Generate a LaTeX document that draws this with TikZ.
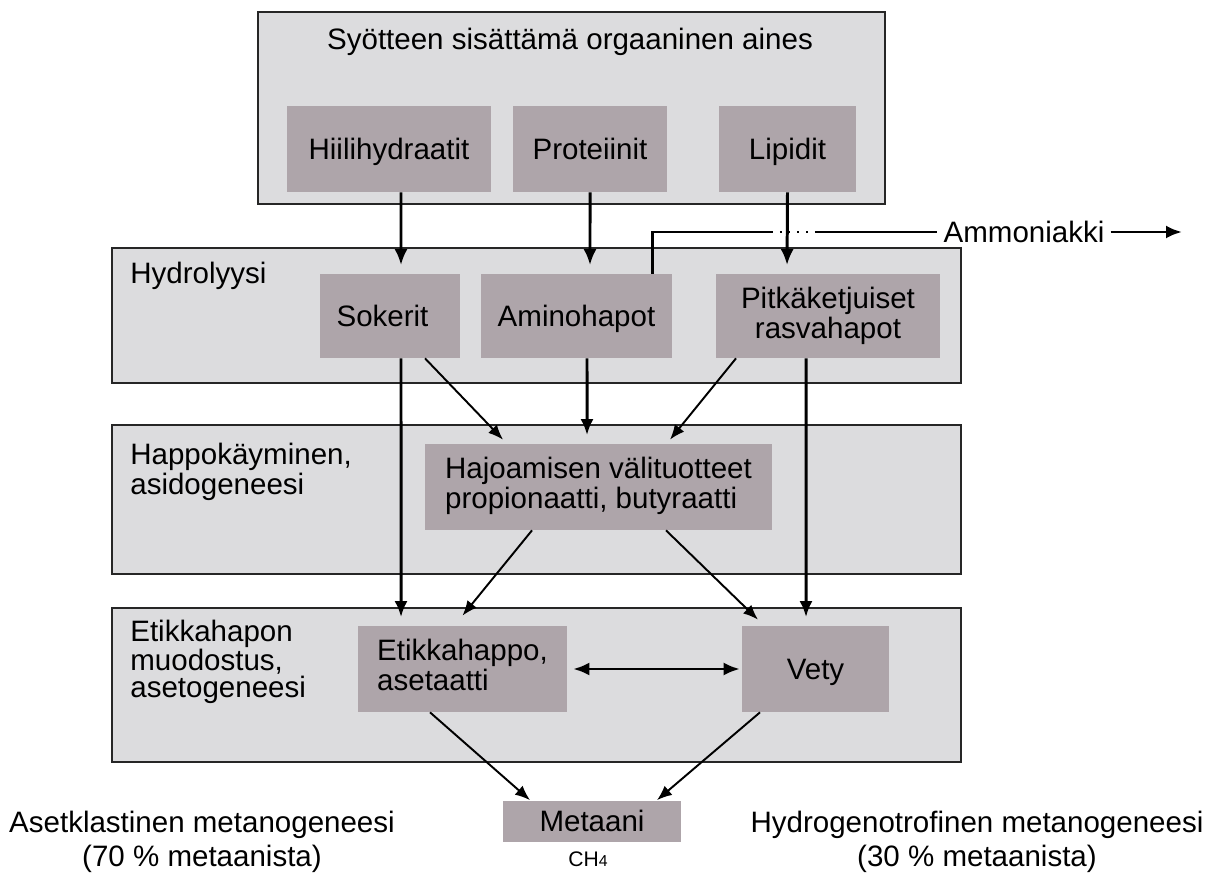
\documentclass[tikz,border=0pt]{standalone}
\usepackage{fontspec}
\setmainfont{Liberation Sans}
\usetikzlibrary{arrows.meta, calc}
\definecolor{stageGray}{HTML}{DCDCDE}
\definecolor{itemMauve}{HTML}{AEA5AA}
\tikzset{
    stageBox/.style={rectangle, draw=black!85, line width=0.9pt, fill=stageGray, inner sep=0pt},
    itemBox/.style={rectangle, fill=itemMauve, inner sep=2pt, align=center},
    oneLine/.style={text height=12pt, text depth=0pt},
    stageLabel/.style={anchor=west, align=left, inner sep=0pt},
    flowThick/.style={->, >={Latex[length=3.2mm, width=2.6mm]}, line width=1.7pt, shorten >=0.17cm},
    flowThin/.style={->, >={Latex[length=3mm, width=2.4mm]}, line width=1.1pt},
    flowBoth/.style={<->, >={Latex[length=3.2mm, width=2.6mm]}, line width=1.5pt},
}
\newcommand{\drawFlow}[3][flowThick]{
    \draw[#1] (#2) -- (#3);
}
\newcommand{\itemNode}[6][oneLine]{
    \node[itemBox, #1, minimum width=#5, minimum height=#6] (#2) at (#3) {#4};
}

\begin{document}
\begin{tikzpicture}[x=0.02cm, y=-0.02cm, font=\fontsize{16.8}{15.5}\selectfont]

        \useasboundingbox (0,0) rectangle (1227,874);

        % vaiheet
        \node[stageBox, minimum width=12.54cm, minimum height=3.84cm] (syote) at (571.5,108) {};
        \node[stageBox, minimum width=16.98cm, minimum height=2.7cm] (hydro) at (536.5,315.5) {};
        \node[stageBox, minimum width=16.98cm, minimum height=2.98cm] (happo) at (536.5,499.5) {};
        \node[stageBox, minimum width=16.98cm, minimum height=3.08cm] (etikka) at (536.5,685) {};

        \node (otsikko) at (570,42) {Syötteen sisättämä orgaaninen aines};
        \node[stageLabel] (lblHydro) at (130,276) {Hydrolyysi};
        \node[stageLabel] (lblHappo) at (130,472) {Happokäyminen,\\asidogeneesi};
        \node[stageLabel] (lblEtikka) at (130,662) {Etikkahapon\\muodostus,\\asetogeneesi};

        % aineet
        \itemNode{hiili}{389,149}{Hiilihydraatit}{4.08cm}{1.72cm}
        \itemNode{prot}{590,149}{Proteiinit}{3.08cm}{1.72cm}
        \itemNode{lipid}{787.5,149}{Lipidit}{2.74cm}{1.72cm}
        \itemNode{sok}{390,316}{\hspace*{-0.3cm}Sokerit}{2.8cm}{1.68cm}
        \itemNode{amino}{576.5,316}{Aminohapot}{3.82cm}{1.68cm}
        \itemNode[]{pitka}{828,316}{Pitkäketjuiset\\rasvahapot}{4.48cm}{1.68cm}
        \itemNode[]{haj}{598.5,487}{\begin{tabular}{@{}l@{}}Hajoamisen välituotteet\\propionaatti, butyraatti\end{tabular}}{6.94cm}{1.72cm}
        \itemNode[]{etik}{462.5,669}{\begin{tabular}{@{}l@{}}Etikkahappo,\\asetaatti\end{tabular}}{4.18cm}{1.72cm}
        \itemNode{vety}{815.5,669}{Vety}{2.94cm}{1.72cm}
        \itemNode{meta}{592,821}{Metaani}{3.56cm}{0.82cm}

        \node (ch) at (588,859) {\fontsize{12}{14}\selectfont CH{\fontsize{9}{10}\selectfont 4}};
        \node[align=center, font=\fontsize{16.8}{19}\selectfont] (aset) at (202,842) {Asetklastinen metanogeneesi\\(70 \% metaanista)};
        \node[align=center, font=\fontsize{16.8}{19}\selectfont] (hydrog) at (977,842) {Hydrogenotrofinen metanogeneesi\\(30 \% metaanista)};

        % ammoniakki
        \node (ammo) at (1024,232) {Ammoniakki};
        \coordinate (gapL) at (771,232);
        \coordinate (gapR) at (816,232);
        \coordinate (ammoEnd) at (1182,232);
        \draw[line width=1.7pt] ([xshift=1.53cm]amino.north) |- (gapL);
        \draw[line width=1.4pt, dash pattern=on 1pt off 4pt] (gapL) -- (gapR);
        \draw[line width=1.7pt] (gapR) -- (ammo.west);
        \draw[flowThick, shorten >=0pt] (ammo.east) -- (ammoEnd);

        % nuolet
        \drawFlow{[xshift=0.24cm]hiili.south}{[xshift=0.22cm]sok.north}
        \drawFlow{prot.south}{[xshift=0.27cm]amino.north}
        \drawFlow{lipid.south}{[xshift=-0.82cm]pitka.north}
        \drawFlow{[xshift=0.22cm]sok.south}{[xshift=-1.23cm]etik.north}
        \drawFlow{[xshift=0.21cm]amino.south}{[xshift=-0.23cm]haj.north}
        \drawFlow{[xshift=-0.44cm]pitka.south}{[xshift=-0.19cm]vety.north}

        \drawFlow[flowThin]{[xshift=0.7cm]sok.south}{[xshift=-1.91cm, yshift=0.08cm]haj.north}
        \drawFlow[flowThin]{[xshift=-1.84cm]pitka.south}{[xshift=1.43cm, yshift=0.08cm]haj.north}
        \drawFlow[flowThin]{[xshift=-1.33cm]haj.south}{[yshift=0.2cm]etik.north}
        \drawFlow[flowThin]{[xshift=1.35cm]haj.south}{[xshift=-1.15cm, yshift=0.12cm]vety.north}
        \drawFlow[flowThin]{[xshift=-0.65cm]etik.south}{[xshift=-1.24cm]meta.north}
        \drawFlow[flowThin]{[xshift=-1.11cm]vety.south}{[xshift=1.3cm]meta.north}

        \drawFlow[flowBoth]{[xshift=0.12cm]etik.east}{[xshift=-0.04cm]vety.west}

    \end{tikzpicture}
\end{document}
